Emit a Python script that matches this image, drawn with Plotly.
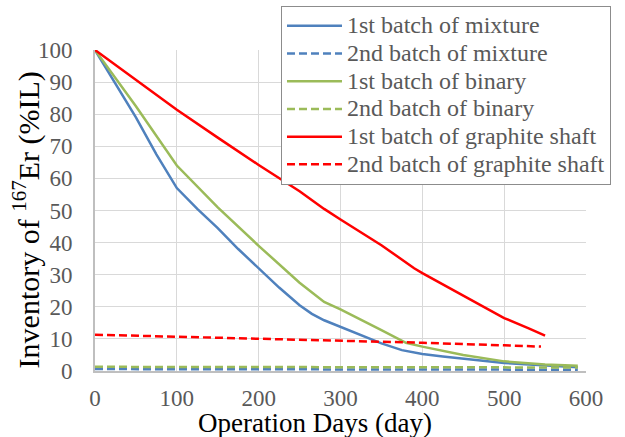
import plotly.graph_objects as go

# Er-167 inventory (% of initial loading) versus operation days
mix1_days = [0, 25, 50, 75, 100, 125, 150, 175, 200, 225, 250, 265, 280, 300, 325, 350,
             375, 400, 425, 450, 475, 500, 525, 550, 575, 590]
mix1_vals = [100, 89.5, 79, 67.5, 57, 50.5, 44.5, 38, 32, 26, 20.5, 17.8, 15.8, 13.7, 11,
             8.6, 6.5, 5.3, 4.5, 3.8, 3.1, 2.5, 2.1, 1.7, 1.4, 1.2]

bin1_days = [0, 50, 100, 150, 200, 250, 280, 300, 350, 380, 400, 450, 500, 550, 590]
bin1_vals = [100, 82.5, 64, 51, 39, 27.5, 21.5, 19.2, 12.7, 8.8, 7.6, 5.0, 3.0, 2.0, 1.6]

gra1_days = [0, 50, 100, 150, 200, 250, 280, 300, 350, 390, 400, 450, 500, 530, 550]
gra1_vals = [100, 90.7, 81.4, 72.7, 64.2, 56, 50.5, 47.2, 39.2, 32, 30.5, 23.5, 16.5, 13.3, 11]

second_days = [0, 100, 200, 300, 400, 500, 590]
mix2_vals = [0.6, 0.6, 0.55, 0.5, 0.5, 0.45, 0.4]
bin2_vals = [1.3, 1.3, 1.25, 1.2, 1.2, 1.15, 1.1]

gra2_days = [0, 100, 200, 300, 400, 500, 545]
gra2_vals = [11.3, 10.7, 10.1, 9.5, 8.8, 8.0, 7.6]

names = ["1st batch of mixture", "2nd batch of mixture",
         "1st batch of binary", "2nd batch of binary",
         "1st batch of graphite shaft", "2nd batch of graphite shaft"]

x_title = "Operation Days (day)"
y_title = "Inventory of <sup>167</sup>Er (%IL)"

BLUE, GREEN, RED = "#4F81BD", "#9BBB59", "#FF0000"
DASH = "8px,4px"
SERIF = "Liberation Serif, Times New Roman, serif"

series = [
    (mix1_days, mix1_vals, BLUE, "solid"),
    (second_days, mix2_vals, BLUE, DASH),
    (bin1_days, bin1_vals, GREEN, "solid"),
    (second_days, bin2_vals, GREEN, DASH),
    (gra1_days, gra1_vals, RED, "solid"),
    (gra2_days, gra2_vals, RED, DASH),
]

fig = go.Figure()
for name, (xs, ys, color, dash) in zip(names, series):
    fig.add_trace(go.Scatter(
        x=xs, y=ys, mode="lines",
        name=f'<span style="font-size:24px">{name}</span>',
        line=dict(color=color, width=2.5, dash=dash),
    ))

# axis titles placed as paper annotations so they can sit off-centre
fig.add_annotation(
    text=x_title, xref="paper", yref="paper", x=0.448, y=-0.162,
    xanchor="center", yanchor="middle", showarrow=False,
    font=dict(family=SERIF, size=27, color="black"),
)
fig.add_annotation(
    text=y_title, xref="paper", yref="paper", x=-0.14, y=0.47,
    xanchor="center", yanchor="middle", showarrow=False, textangle=-90,
    font=dict(family=SERIF, size=30, color="black"),
)

fig.update_layout(
    width=625, height=437,
    margin=dict(l=95, r=39, t=50, b=66, autoexpand=False),
    paper_bgcolor="white", plot_bgcolor="white",
    font=dict(family=SERIF, color="#595959"),
    legend=dict(
        x=0.3788, y=1.137, xanchor="left", yanchor="top",
        bgcolor="white", bordercolor="#8c8c8c", borderwidth=1,
        font=dict(family=SERIF, size=19, color="#595959"),
        itemwidth=55,
    ),
    xaxis=dict(
        range=[0, 600], dtick=100, tick0=0,
        showgrid=True, gridcolor="#d9d9d9", gridwidth=1.3,
        showline=True, linecolor="#bfbfbf", linewidth=2,
        zeroline=False, ticks="", ticklabelstandoff=5,
        tickfont=dict(family=SERIF, size=23, color="#595959"),
        automargin=False,
    ),
    yaxis=dict(
        range=[0, 100], dtick=10, tick0=0,
        showgrid=True, gridcolor="#d9d9d9", gridwidth=1.3,
        showline=True, linecolor="#bfbfbf", linewidth=2,
        zeroline=False, ticks="", ticklabelstandoff=16,
        tickfont=dict(family=SERIF, size=23, color="#595959"),
        automargin=False,
    ),
)

fig.write_html("out.html")
